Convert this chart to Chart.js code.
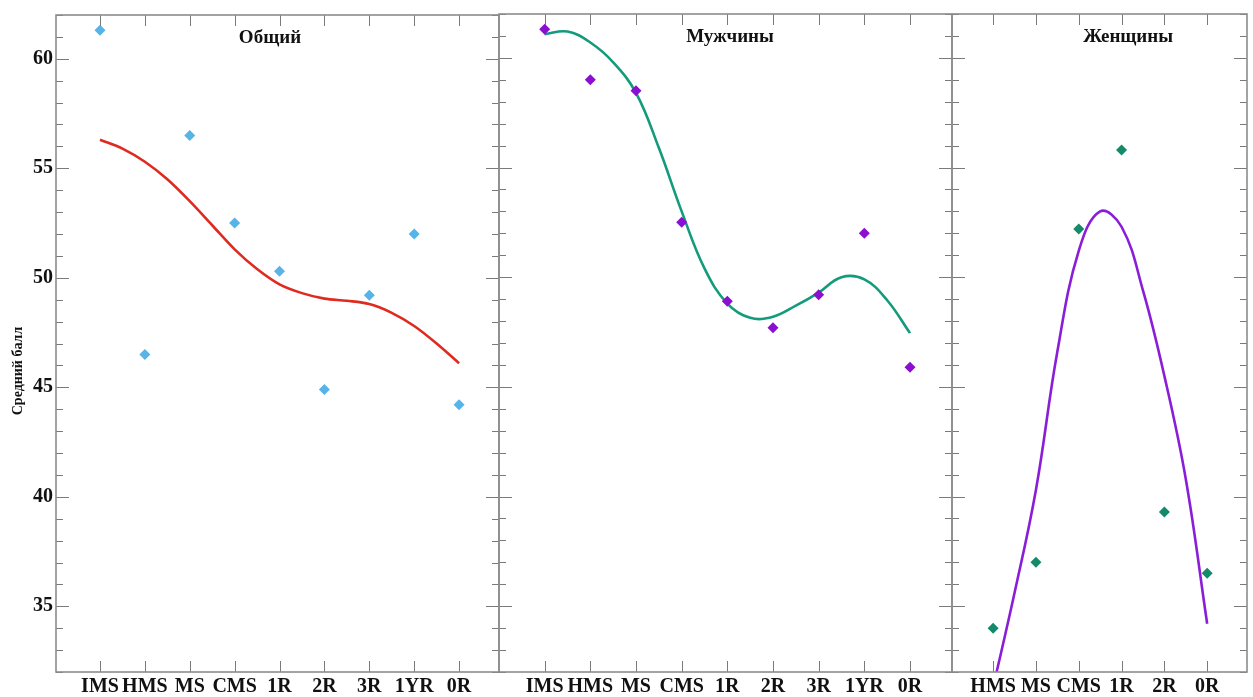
<!DOCTYPE html>
<html><head><meta charset="utf-8">
<script src="https://cdn.jsdelivr.net/npm/chart.js@4.4.1/dist/chart.umd.min.js"></script>
<style>
html,body{margin:0;padding:0;background:#fff;}
#wrap{position:relative;width:1253px;height:697px;overflow:hidden;background:#fff;}
canvas{position:absolute;top:0;}
</style></head><body>
<div id="wrap">
<canvas id="c1" style="left:0px" width="500" height="697"></canvas>
<canvas id="c2" style="left:495px" width="458" height="697"></canvas>
<canvas id="c3" style="left:948px" width="305" height="697"></canvas>
</div>
<script>
// ---- data ----
const catsAll = ['IMS','HMS','MS','CMS','1R','2R','3R','1YR','0R'];
const catsWomen = ['HMS','MS','CMS','1R','2R','0R'];
const yTickValues = [35, 40, 45, 50, 55, 60];

const overallScores = [61.3, 46.5, 56.5, 52.5, 50.3, 44.9, 49.2, 52.0, 44.2];
const menScores     = [61.3, 59.0, 58.5, 52.5, 48.9, 47.7, 49.2, 52.0, 45.9];
const womenScores   = [34.0, 37.0, 52.2, 55.8, 39.3, 36.5];

// trend curves read at half-category steps
const trendPosAll   = [0,0.5,1,1.5,2,2.5,3,3.5,4,4.5,5,5.5,6,6.5,7,7.5,8];
const overallTrend  = [56.3,55.9,55.3,54.5,53.5,52.4,51.3,50.4,49.7,49.3,49.05,48.95,48.8,48.4,47.8,47.0,46.1];
const menTrend      = [61.08,61.2,60.7,59.8,58.4,55.9,53.0,50.4,48.8,48.15,48.2,48.7,49.3,50.0,49.9,48.95,47.45];
const trendPosWomen = [0,0.5,1,1.5,2,2.5,3,3.5,4,4.5,5];
const womenTrend    = [31.3,35.6,40.3,46.6,51.2,53.0,52.3,49.4,45.5,40.8,34.2];

const titles = ['Общий','Мужчины','Женщины'];
const yTitle = 'Средний балл';

const FONT = '"Liberation Serif","Times New Roman",serif';

const frameTicks = {
  id: 'frameTicks',
  afterDatasetsDraw(chart, args, opts) {
    const {ctx, chartArea: a, scales: {x, y}} = chart;
    ctx.save();
    ctx.strokeStyle = '#7a7a7a';
    ctx.lineWidth = 1;
    for (let v = Math.ceil(y.min); v <= y.max; v++) {
      const py = Math.round(y.getPixelForValue(v)) + 0.5;
      const len = (v % 5 === 0) ? 13 : 7;
      ctx.beginPath();
      ctx.moveTo(a.left, py); ctx.lineTo(a.left + len, py);
      ctx.moveTo(a.right - len, py); ctx.lineTo(a.right, py);
      ctx.stroke();
    }
    opts.cats.forEach((c, i) => {
      const px = Math.round(x.getPixelForValue(i)) + 0.5;
      ctx.beginPath();
      ctx.moveTo(px, a.top); ctx.lineTo(px, a.top + 11);
      ctx.moveTo(px, a.bottom - 11); ctx.lineTo(px, a.bottom);
      ctx.stroke();
    });
    ctx.strokeStyle = '#8c8c8c';
    ctx.lineWidth = 1.6;
    ctx.strokeRect(a.left, a.top, a.right - a.left, a.bottom - a.top);
    // panel title
    ctx.fillStyle = '#111';
    ctx.font = 'bold 19px ' + FONT;
    ctx.textAlign = 'center';
    ctx.textBaseline = 'middle';
    ctx.fillText(opts.title, a.left + opts.titleFrac * (a.right - a.left), a.top + 23);
    if (opts.yTitle) {
      ctx.save();
      ctx.translate(18, 371);
      ctx.rotate(-Math.PI / 2);
      ctx.font = 'bold 14px ' + FONT;
      ctx.fillText(opts.yTitle, 0, 0);
      ctx.restore();
    }
    ctx.restore();
  }
};

function makeChart(id, cats, scores, trendPos, trend, ptColor, lineColor, xMin, xMax, showY, pad, title, titleFrac, interp) {
  const trendData = trendPos.map((p, i) => ({x: p, y: trend[i]}));
  const ptData = scores.map((v, i) => ({x: i, y: v}));
  return new Chart(document.getElementById(id), {
    type: 'scatter',
    data: {
      datasets: [
        {data: ptData, pointStyle: 'rectRot', pointRadius: 5.5, pointBackgroundColor: ptColor,
         pointBorderColor: ptColor, pointBorderWidth: 0, showLine: false, order: 1},
        {data: trendData, showLine: true, borderColor: lineColor, borderWidth: 2.6,
         cubicInterpolationMode: interp, tension: 0.4,
         pointRadius: 0, fill: false, order: 2}
      ]
    },
    options: {
      responsive: false, animation: false, devicePixelRatio: 1,
      layout: {autoPadding: false, padding: pad},
      plugins: {legend: {display: false}, tooltip: {enabled: false},
        frameTicks: {cats: cats, title: title, titleFrac: titleFrac, yTitle: showY ? yTitle : null}},
      scales: {
        x: {
          type: 'linear', min: xMin, max: xMax,
          grid: {display: false, drawTicks: false}, border: {display: false},
          afterBuildTicks: s => { s.ticks = cats.map((c, i) => ({value: i})); },
          afterFit: s => { s.height = 25; },
          ticks: {padding: 3, color: '#111', autoSkip: false, maxRotation: 0,
            font: {family: FONT, size: 20, weight: 'bold'},
            callback: v => cats[v] !== undefined ? cats[v] : ''}
        },
        y: {
          type: 'linear', min: 32, max: 62, display: showY,
          grid: {display: false, drawTicks: false}, border: {display: false},
          afterBuildTicks: s => { s.ticks = yTickValues.map(v => ({value: v})); },
          afterFit: s => { s.width = showY ? 56 : 0; },
          ticks: {padding: 3, color: '#111', font: {family: FONT, size: 20, weight: 'bold'}}
        }
      }
    },
    plugins: [frameTicks]
  });
}

makeChart('c1', catsAll, overallScores, trendPosAll, overallTrend, '#56B4E9', '#DF2B1F',
  -0.98, 8.89, true, {top: 14, right: 1, left: 0, bottom: 0}, titles[0], 0.483, 'monotone');
makeChart('c2', catsAll, menScores, trendPosAll, menTrend, '#8A0FD0', '#139B7C',
  -1.0, 8.92, false, {top: 14, right: 1, left: 4, bottom: 0}, titles[1], 0.51, 'default');
makeChart('c3', catsWomen, womenScores, trendPosWomen, womenTrend, '#138A6A', '#8A1ED8',
  -0.96, 5.93, false, {top: 14, right: 6, left: 4, bottom: 0}, titles[2], 0.597, 'default');
</script>
</body></html>
